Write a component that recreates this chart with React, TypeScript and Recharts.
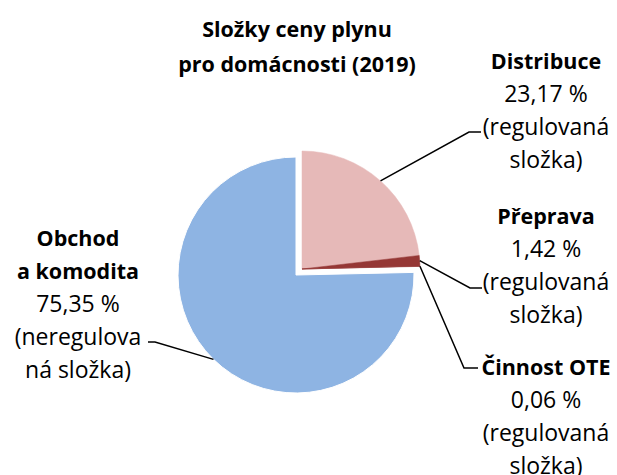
import React from "react";
import { PieChart, Pie, Cell } from "recharts";

// složky ceny plynu pro domácnosti 2019, v %
const NAMES = ["Distribuce", "Přeprava", "Činnost OTE", "Obchod a komodita"];
const VALUES = [23.17, 1.42, 0.06, 75.35];
const VALUE_LABELS = ["23,17 %", "1,42 %", "0,06 %", "75,35 %"];
const NOTES = [
  ["(regulovaná", "složka)"],
  ["(regulovaná", "složka)"],
  ["(regulovaná", "složka)"],
  ["(neregulova", "ná složka)"],
];
const COLORS = ["#E6B9B8", "#953735", "#953735", "#8EB4E3"];

const data = NAMES.map((name, i) => ({ name, value: VALUES[i] }));

const FONT = "'Open Sans', 'Noto Sans', sans-serif";
const FONT_SIZE = 23;
const BOLD_SIZE = 21.5;
const LINE_H = 33;

// where each label block sits: elbow of leader line, text center x, first line y
const LABEL_LAYOUT = [
  { elbowX: 469, elbowY: 132, endX: 481, textX: 546, textY: 60, titleLines: ["Distribuce"] },
  { elbowX: 470, elbowY: 288, endX: 482, textX: 546, textY: 215, titleLines: ["Přeprava"] },
  { elbowX: 464, elbowY: 368, endX: 478, textX: 546, textY: 366, titleLines: ["Činnost OTE"] },
  { elbowX: 155, elbowY: 342, endX: 148, textX: 78, textY: 237, titleLines: ["Obchod", "a komodita"] },
];

const RAD = Math.PI / 180;

function makeLabel(visible: number[]) {
  return (props: any) => {
    const { cx, cy, midAngle, outerRadius, index } = props;
    if (!visible.includes(index)) return null;
    const lay = LABEL_LAYOUT[index];
    const ax = cx + outerRadius * Math.cos(-midAngle * RAD);
    const ay = cy + outerRadius * Math.sin(-midAngle * RAD);
    const lines = [...lay.titleLines, VALUE_LABELS[index], ...NOTES[index]];
    return (
      <g key={`lbl-${index}`}>
        <polyline
          points={`${ax},${ay} ${lay.elbowX},${lay.elbowY} ${lay.endX},${lay.elbowY}`}
          fill="none"
          stroke="#000"
          strokeWidth={1.5}
        />
        {lines.map((t, j) => {
          const bold = j < lay.titleLines.length;
          return (
            <text
              key={j}
              x={lay.textX}
              y={lay.textY + j * LINE_H}
              textAnchor="middle"
              dominantBaseline="central"
              fontFamily={FONT}
              fontSize={bold ? BOLD_SIZE : FONT_SIZE}
              fontWeight={bold ? 700 : 400}
              fill="#000"
            >
              {t}
            </text>
          );
        })}
      </g>
    );
  };
}

export default function App() {
  return (
    <div style={{ position: "absolute", left: 0, top: 0, width: 617, height: 475, background: "#fff", overflow: "hidden" }}>
      <div
        style={{
          position: "absolute",
          left: 0,
          top: 11,
          width: 594,
          textAlign: "center",
          fontFamily: FONT,
          fontWeight: 700,
          fontSize: BOLD_SIZE,
          lineHeight: "35px",
          color: "#000",
        }}
      >
        Složky ceny plynu
        <br />
        pro domácnosti (2019)
      </div>
      <PieChart
        width={617}
        height={475}
        margin={{ top: 0, right: 0, bottom: 0, left: 0 }}
        style={{ position: "absolute", left: 0, top: 0 }}
      >
        {/* obchod a komodita – neposunutá část */}
        <Pie
          data={data}
          dataKey="value"
          cx={296}
          cy={275}
          outerRadius={118}
          startAngle={90}
          endAngle={-270}
          isAnimationActive={false}
          labelLine={false}
          label={makeLabel([3])}
        >
          {data.map((d, i) => (
            <Cell key={d.name} fill={i === 3 ? COLORS[i] : "transparent"} stroke={i === 3 ? "#fff" : "none"} />
          ))}
        </Pie>
        {/* regulované složky – vysunuté */}
        <Pie
          data={data}
          dataKey="value"
          cx={302}
          cy={269}
          outerRadius={118}
          startAngle={90}
          endAngle={-270}
          isAnimationActive={false}
          labelLine={false}
          label={makeLabel([0, 1, 2])}
        >
          {data.map((d, i) => (
            <Cell key={d.name} fill={i === 3 ? "transparent" : COLORS[i]} stroke={i === 3 ? "none" : COLORS[i]} strokeWidth={0.5} />
          ))}
        </Pie>
      </PieChart>
    </div>
  );
}
